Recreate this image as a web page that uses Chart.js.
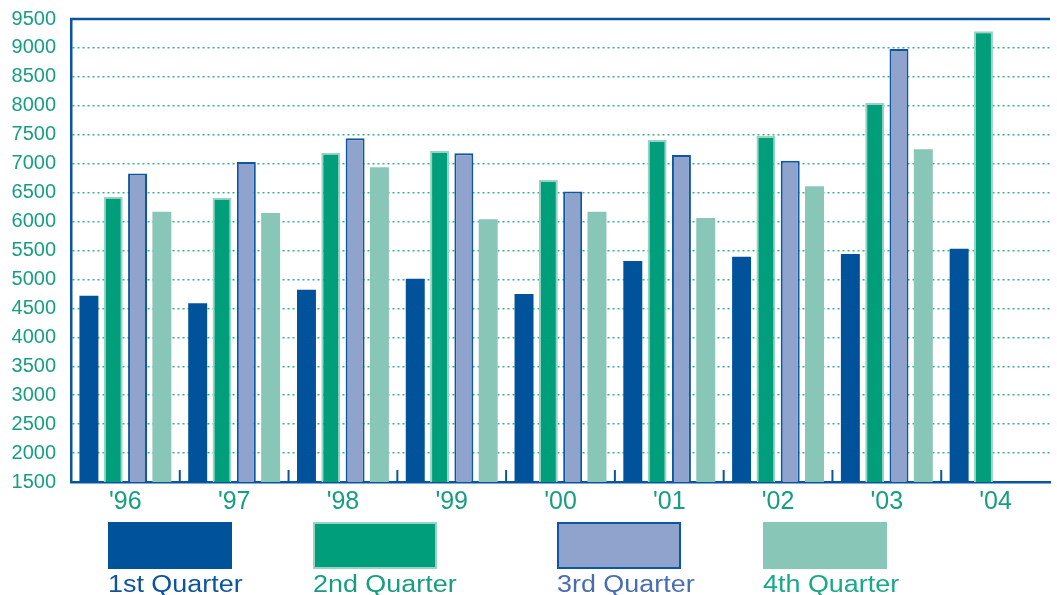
<!DOCTYPE html>
<html>
<head>
<meta charset="utf-8">
<script src="https://cdn.jsdelivr.net/npm/chart.js@4/dist/chart.umd.min.js"></script>
<style>
  html, body { margin: 0; padding: 0; background: #fff; }
</style>
</head>
<body>
<canvas id="quarterChart" width="1057" height="595"></canvas>
<script>
// data
var years = ["'96", "'97", "'98", "'99", "'00", "'01", "'02", "'03", "'04"];
var q1 = [4720, 4590, 4820, 5010, 4750, 5320, 5390, 5440, 5530];
var q2 = [6430, 6410, 7190, 7220, 6720, 7410, 7480, 8050, 9290];
var q3 = [6830, 7030, 7440, 7180, 6520, 7150, 7050, 8980, null];
var q4 = [6170, 6150, 6940, 6040, 6170, 6060, 6610, 7250, null];
var seriesNames = ["1st Quarter", "2nd Quarter", "3rd Quarter", "4th Quarter"];
var yMin = 1500, yMax = 9500, yStep = 500;

var FONT = "'Liberation Sans', Arial, sans-serif";
var AXIS_BLUE = "#0b55a0";
var TICK_GREEN = "#169e80";

// blue frame line on top + small inner ticks between year groups
var framePlugin = {
  id: 'frame',
  afterDatasetsDraw: function(chart) {
    var ctx = chart.ctx, a = chart.chartArea, xs = chart.scales.x;
    ctx.save();
    ctx.strokeStyle = AXIS_BLUE;
    ctx.lineWidth = 2.5;
    ctx.beginPath();
    ctx.moveTo(a.left - 1, a.top);
    ctx.lineTo(a.right, a.top);
    ctx.stroke();
    ctx.lineWidth = 2;
    var n = xs.ticks.length;
    for (var i = 1; i < n; i++) {
      var x = (xs.getPixelForTick(i - 1) + xs.getPixelForTick(i)) / 2;
      ctx.beginPath();
      ctx.moveTo(x, a.bottom - 12);
      ctx.lineTo(x, a.bottom);
      ctx.stroke();
    }
    ctx.restore();
  }
};

// big boxes with the names under them
var legendPlugin = {
  id: 'bigLegend',
  afterDraw: function(chart) {
    var ctx = chart.ctx;
    var xs = [108, 313, 557, 763];
    var textColors = ["#0b55a0", "#169e80", "#4a6db0", "#1aa889"];
    ctx.save();
    chart.data.datasets.forEach(function(ds, i) {
      var x = xs[i], y = 522, w = 124, h = 47;
      ctx.fillStyle = ds.backgroundColor;
      ctx.fillRect(x, y, w, h);
      if (ds.borderWidth) {
        ctx.strokeStyle = ds.borderColor;
        ctx.lineWidth = 2;
        ctx.strokeRect(x + 1, y + 1, w - 2, h - 2);
      }
      ctx.save();
      ctx.translate(x, 592);
      ctx.scale(1.17, 1);
      ctx.fillStyle = textColors[i];
      ctx.font = "23px " + FONT;
      ctx.textBaseline = 'alphabetic';
      ctx.fillText(ds.label, 0, 0);
      ctx.restore();
    });
    ctx.restore();
  }
};

new Chart(document.getElementById('quarterChart'), {
  type: 'bar',
  data: {
    labels: years,
    datasets: [
      { label: seriesNames[0], data: q1, backgroundColor: "#00529b", borderWidth: 0 },
      { label: seriesNames[1], data: q2, backgroundColor: "#009e7a", borderColor: "#98d3c3", borderWidth: 2 },
      { label: seriesNames[2], data: q3, backgroundColor: "#8fa3cc", borderColor: "#0d56a2", borderWidth: 2 },
      { label: seriesNames[3], data: q4, backgroundColor: "#88c6b8", borderWidth: 0 }
    ]
  },
  options: {
    responsive: false,
    animation: false,
    categoryPercentage: 0.894,
    barPercentage: 0.78,
    layout: { padding: { top: 19, right: 7, left: 0, bottom: 0 } },
    plugins: {
      legend: { display: false },
      tooltip: { enabled: false }
    },
    scales: {
      x: {
        grid: { display: false, drawTicks: false },
        border: { color: AXIS_BLUE, width: 2.5 },
        ticks: { color: TICK_GREEN, font: { family: FONT, size: 25 }, padding: 5 },
        afterFit: function(s) { s.height = 113; s.paddingLeft = 0; s.paddingRight = 0; }
      },
      y: {
        min: yMin,
        max: yMax,
        grid: { color: "#3aae96", lineWidth: 1.5, drawTicks: false },
        border: { color: AXIS_BLUE, width: 2.5, dash: [2, 3] },
        ticks: {
          stepSize: yStep, color: TICK_GREEN, font: { family: FONT, size: 20 }, padding: 15,
          callback: function(v) { return String(v); }
        },
        afterFit: function(s) { s.width = 71; s.paddingTop = 0; s.paddingBottom = 0; }
      }
    }
  },
  plugins: [framePlugin, legendPlugin]
});
</script>
</body>
</html>
